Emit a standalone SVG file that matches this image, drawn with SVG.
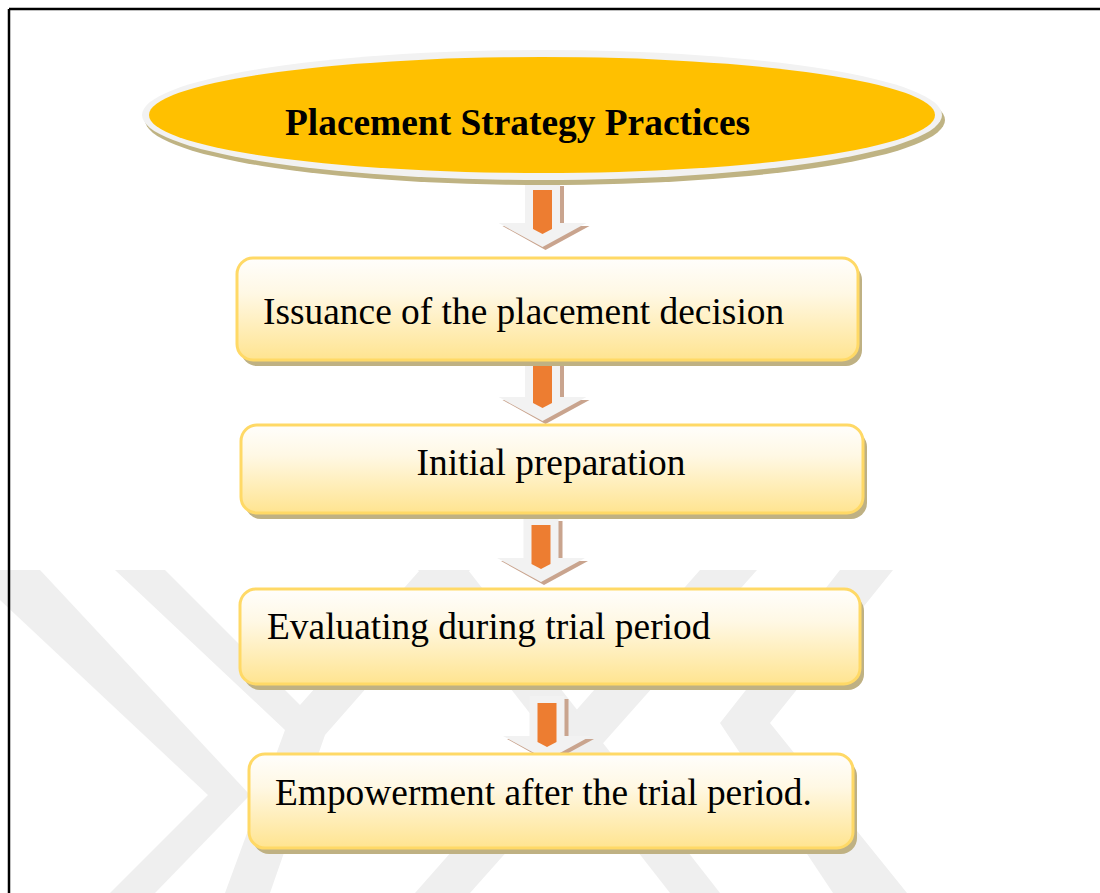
<svg xmlns="http://www.w3.org/2000/svg" width="1100" height="893" viewBox="0 0 1100 893">
  <style>
    .wm { fill: #efefef; }
    .frame { stroke: #000; stroke-width: 2.5; fill: none; }
    .box { fill: url(#boxGrad); stroke: #ffd966; stroke-width: 3; }
    .boxShadow { fill: #bfb183; }
    .label { font-family: "Liberation Serif", "Times New Roman", serif; font-size: 37.4px; fill: #000; }
    .title { font-family: "Liberation Serif", "Times New Roman", serif; font-size: 37.4px; font-weight: bold; fill: #000; }
  </style>
  <defs>
    <linearGradient id="boxGrad" x1="0" y1="0" x2="0" y2="1">
      <stop offset="0" stop-color="#fffefc"/>
      <stop offset="0.35" stop-color="#fff8e4"/>
      <stop offset="1" stop-color="#ffe490"/>
    </linearGradient>
    <g id="arrow">
      <path d="M-14.5,3 H21.5 V43 H47 L3,67 L-40,43 H-14.5 Z" fill="#c9a48e"/>
      <path d="M-17.5,0 H17.5 V40 H44 L0,64 L-44,40 H-17.5 Z" fill="#f2f2f2"/>
      <path d="M-9.5,7 H9.5 V46 L0,51 L-9.5,46 Z" fill="#ed7d31"/>
    </g>
  </defs>

  <rect x="0" y="0" width="1100" height="893" fill="#ffffff"/>

  <g id="watermark">
    <polygon class="wm" points="0,570 40,570 250,795 155,893 110,893 208,795 0,600"/>
    <polygon class="wm" points="115,570 165,570 300,705 420,570 470,570 325,735 270,893 225,893 285,730"/>
    <polygon class="wm" points="418,570 468,570 720,893 670,893"/>
    <polygon class="wm" points="700,570 757,570 470,893 415,893"/>
    <polygon class="wm" points="840,570 893,570 770,723 907,893 833,893 720,723"/>
  </g>

  <g id="frame">
    <line class="frame" x1="9" y1="9" x2="1100" y2="9"/>
    <line class="frame" x1="9" y1="9" x2="9" y2="893"/>
  </g>

  <g id="connectors">
    <use href="#arrow" transform="translate(542.5,183)"/>
    <use href="#arrow" transform="translate(542.5,357)"/>
    <use href="#arrow" transform="translate(541,518)"/>
    <use href="#arrow" transform="translate(547,696)"/>
  </g>

  <g id="title">
    <ellipse cx="545" cy="120" rx="400" ry="65" fill="#bfb383"/>
    <ellipse cx="542" cy="115" rx="400" ry="65" fill="#f2f2f2"/>
    <ellipse cx="542" cy="115" rx="393" ry="58" fill="#ffc000"/>
    <text class="title" x="285" y="135">Placement Strategy Practices</text>
  </g>

  <g id="node1">
    <rect class="boxShadow" x="241" y="264" width="621" height="102" rx="16"/>
    <rect class="box" x="237" y="258" width="621" height="102" rx="16"/>
    <text class="label" x="263" y="324">Issuance of the placement decision</text>
  </g>

  <g id="node2">
    <rect class="boxShadow" x="245" y="431" width="622" height="88" rx="16"/>
    <rect class="box" x="241" y="425" width="622" height="88" rx="16"/>
    <text class="label" x="551" y="475" text-anchor="middle">Initial preparation</text>
  </g>

  <g id="node3">
    <rect class="boxShadow" x="244" y="595" width="620" height="95" rx="16"/>
    <rect class="box" x="240" y="589" width="620" height="95" rx="16"/>
    <text class="label" x="267" y="639">Evaluating during trial period</text>
  </g>

  <g id="node4">
    <rect class="boxShadow" x="253" y="760" width="604" height="94" rx="16"/>
    <rect class="box" x="249" y="754" width="604" height="94" rx="16"/>
    <text class="label" x="275" y="805">Empowerment after the trial period.</text>
  </g>
</svg>
